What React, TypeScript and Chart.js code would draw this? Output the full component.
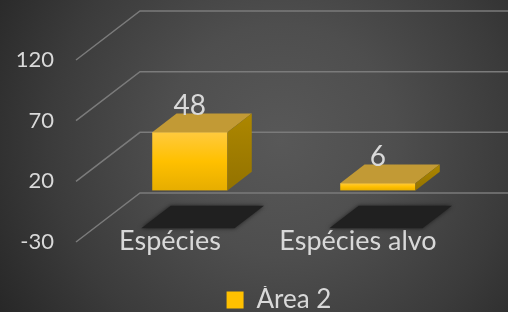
import React, { useEffect, useRef } from 'react';
import { Chart, registerables } from 'chart.js';

Chart.register(...registerables);

// ---- data ----
const categories = ['Espécies', 'Espécies alvo'];
const seriesName = 'Área 2';
const seriesValues = [48, 6];
const yMin = -30;
const yMax = 120;
const yStep = 50;

// ---- 3D styling constants ----
const DEPTH_X = 64;
const DEPTH_Y = -49;
const F_FRONT = 0.31;
const F_BACK = 0.69;
const FONT = 'Lato, "Open Sans", sans-serif';
const TEXT = '#d9d9d9';

const bgPlugin = {
  id: 'bg3d',
  beforeDraw(chart: any) {
    const { ctx, width, height } = chart;
    const g = ctx.createRadialGradient(280, 140, 0, 280, 140, 330);
    g.addColorStop(0, '#585858');
    g.addColorStop(0.35, '#4e4e4e');
    g.addColorStop(0.7, '#3b3b3b');
    g.addColorStop(1, '#272727');
    ctx.save();
    ctx.fillStyle = g;
    ctx.fillRect(0, 0, width, height);
    ctx.restore();
  },
  afterLayout(chart: any) {
    const lg = chart.legend;
    if (lg) {
      const shift = 279 - (lg.left + lg.right) / 2;
      lg.left += shift;
      lg.right += shift;
    }
  },
};

const bars3dPlugin = {
  id: 'bars3d',
  beforeDatasetsDraw(chart: any) {
    const { ctx, chartArea, scales } = chart;
    const ys = scales.y;
    ctx.save();
    // grid: side wall + back wall
    ctx.strokeStyle = '#7b7b7b';
    ctx.lineWidth = 1.5;
    ys.ticks.forEach((t: any) => {
      const py = ys.getPixelForValue(t.value);
      ctx.beginPath();
      ctx.moveTo(chartArea.left, py);
      ctx.lineTo(chartArea.left + DEPTH_X, py + DEPTH_Y);
      ctx.lineTo(chart.width, py + DEPTH_Y);
      ctx.stroke();
    });

    const floorY = ys.getPixelForValue(yMin);
    const meta = chart.getDatasetMeta(0);
    // shadows
    meta.data.forEach((bar: any) => {
      const { x, width } = bar.getProps(['x', 'width'], true);
      const xl = x - width / 2 - 9;
      const xr = x + width / 2 + 9;
      const f1 = 0.28, f2 = 0.74;
      ctx.save();
      ctx.fillStyle = '#202020';
      ctx.shadowColor = 'rgba(0,0,0,0.6)';
      ctx.shadowBlur = 4;
      ctx.beginPath();
      ctx.moveTo(xl + DEPTH_X * f1, floorY + DEPTH_Y * f1);
      ctx.lineTo(xr + DEPTH_X * f1, floorY + DEPTH_Y * f1);
      ctx.lineTo(xr + DEPTH_X * f2, floorY + DEPTH_Y * f2);
      ctx.lineTo(xl + DEPTH_X * f2, floorY + DEPTH_Y * f2);
      ctx.closePath();
      ctx.fill();
      ctx.restore();
    });

    // bars
    meta.data.forEach((bar: any, i: number) => {
      const { x, y, base, width } = bar.getProps(['x', 'y', 'base', 'width'], true);
      const fdx = DEPTH_X * F_FRONT, fdy = DEPTH_Y * F_FRONT;
      const bdx = DEPTH_X * F_BACK, bdy = DEPTH_Y * F_BACK;
      const l = x - width / 2, r = x + width / 2;
      const top = Math.min(y, base), bot = Math.max(y, base);
      // front
      const fg = ctx.createLinearGradient(0, top + fdy, 0, bot + fdy);
      fg.addColorStop(0, '#ffca3e');
      fg.addColorStop(0.5, '#ffc000');
      fg.addColorStop(1, '#e6ad00');
      ctx.fillStyle = fg;
      ctx.fillRect(l + fdx, top + fdy, width, bot - top);
      // top
      ctx.fillStyle = '#c29a35';
      ctx.beginPath();
      ctx.moveTo(l + fdx, top + fdy);
      ctx.lineTo(r + fdx, top + fdy);
      ctx.lineTo(r + bdx, top + bdy);
      ctx.lineTo(l + bdx, top + bdy);
      ctx.closePath();
      ctx.fill();
      // side
      const sg = ctx.createLinearGradient(0, top + bdy, 0, bot + fdy);
      sg.addColorStop(0, '#ad8700');
      sg.addColorStop(1, '#937200');
      ctx.fillStyle = sg;
      ctx.beginPath();
      ctx.moveTo(r + fdx, top + fdy);
      ctx.lineTo(r + bdx, top + bdy);
      ctx.lineTo(r + bdx, bot + bdy);
      ctx.lineTo(r + fdx, bot + fdy);
      ctx.closePath();
      ctx.fill();
      // value label
      ctx.fillStyle = TEXT;
      ctx.font = `28px ${FONT}`;
      ctx.textAlign = 'center';
      ctx.textBaseline = 'alphabetic';
      ctx.fillText(String(seriesValues[i]), x + fdx, top + bdy + 1);
    });
    ctx.restore();
    return false;
  },
};

export default function App() {
  const ref = useRef<HTMLCanvasElement | null>(null);
  useEffect(() => {
    if (!ref.current) return;
    const chart = new Chart(ref.current, {
      type: 'bar',
      data: {
        labels: categories,
        datasets: [
          {
            label: seriesName,
            data: seriesValues,
            backgroundColor: '#ffc000',
            borderWidth: 0,
            barPercentage: 0.4,
            categoryPercentage: 1,
          },
        ],
      },
      options: {
        animation: false,
        responsive: false,
        layout: { padding: { top: 60, right: 56, left: 0, bottom: -11 } },
        plugins: {
          legend: {
            position: 'bottom',
            labels: {
              color: TEXT,
              boxWidth: 17,
              boxHeight: 17,
              padding: 1,
              font: { family: FONT, size: 26, lineHeight: 1 },
            },
          },
          tooltip: { enabled: false },
        },
        scales: {
          x: {
            grid: { display: false },
            border: { display: false },
            ticks: {
              color: TEXT,
              padding: -25,
              font: { family: FONT, size: 27 },
            },
            afterFit(s: any) {
              s.height = 44;
              // labels sit partly over the 3D floor; don't clip them to the axis box
              s._computeLabelArea = () => undefined;
            },
          },
          y: {
            min: yMin,
            max: yMax,
            grid: { display: false, drawTicks: false },
            border: { display: false },
            ticks: {
              stepSize: yStep,
              color: TEXT,
              padding: 22,
              font: { family: FONT, size: 22 },
            },
            afterFit(s: any) {
              s.width = 76;
            },
          },
        },
      },
      plugins: [bgPlugin, bars3dPlugin],
    });
    return () => chart.destroy();
  }, []);
  return (
    <div style={{ position: 'fixed', left: 0, top: 0, width: 508, height: 312 }}>
      <canvas ref={ref} width={508} height={312} style={{ display: 'block' }} />
    </div>
  );
}
